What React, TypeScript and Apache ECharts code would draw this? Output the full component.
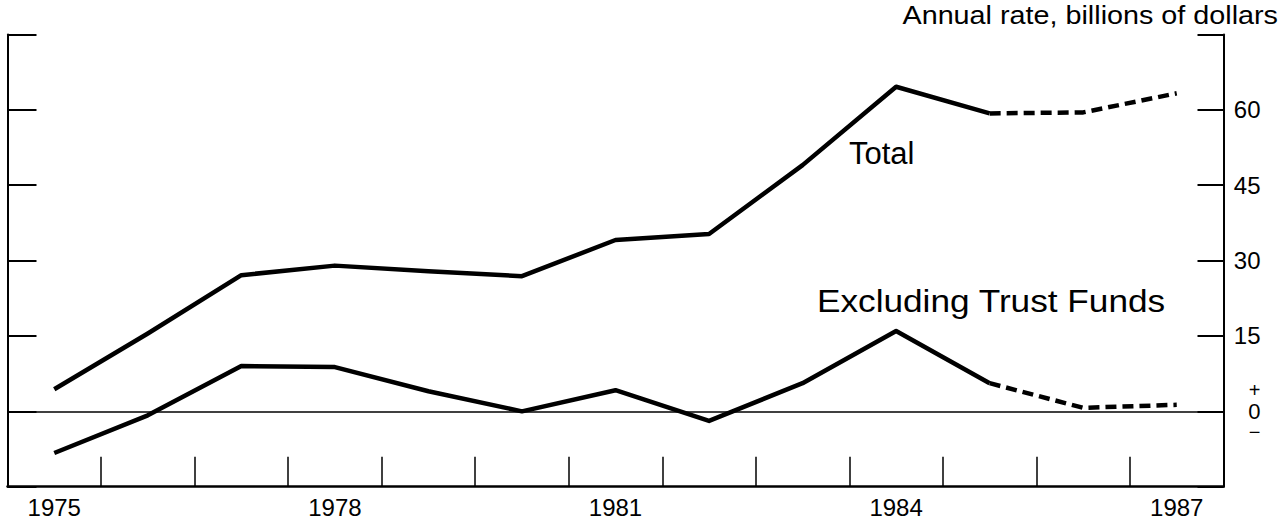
import React, { useEffect, useRef } from "react";
import * as echarts from "echarts";

const years = ["1975","1976","1977","1978","1979","1980","1981","1982","1983","1984","1985","1986","1987"];
const totalSolid = [4.4, 15.5, 27.1, 29.0, 27.9, 26.9, 34.1, 35.3, 49.0, 64.6, 59.3, null, null];
const totalDashed = [null, null, null, null, null, null, null, null, null, null, 59.3, 59.5, 63.3];
const exclSolid = [-8.3, -0.8, 9.0, 8.8, 4.0, 0.0, 4.2, -1.9, 5.6, 16.0, 5.6, null, null];
const exclDashed = [null, null, null, null, null, null, null, null, null, null, 5.6, 0.7, 1.3];
const rightTickLabels = ["15", "30", "45", "60"];

const FONT = "Liberation Sans, Arial, Helvetica, sans-serif";
const INK = "#000";

export default function App() {
  const ref = useRef<HTMLDivElement>(null);
  useEffect(() => {
    const chart = echarts.init(ref.current!, null, { renderer: "svg" });
    const line = (data: (number | null)[], dashed: boolean, extra: any = {}) => ({
      type: "line",
      data,
      symbol: "none",
      connectNulls: false,
      lineStyle: { color: INK, width: 4.5, type: dashed ? [11, 6] : "solid", cap: "butt", join: "round" },
      z: 3,
      ...extra,
    });
    chart.setOption({
      animation: false,
      textStyle: { fontFamily: FONT, color: INK },
      grid: { left: 7.5, right: 57.5, top: 34.5, bottom: 33.3, containLabel: false },
      xAxis: {
        type: "category",
        data: years,
        boundaryGap: true,
        axisLine: { show: true, onZero: false, lineStyle: { color: INK, width: 2.5 } },
        axisTick: { show: true, inside: true, length: 30, interval: 0, lineStyle: { color: INK, width: 1.5 } },
        axisLabel: { interval: 2, color: INK, fontSize: 24, fontFamily: FONT, margin: 9 },
        splitLine: { show: false },
      },
      yAxis: [
        {
          type: "value",
          position: "left",
          min: -15,
          max: 75,
          interval: 15,
          axisLine: { show: true, lineStyle: { color: INK, width: 2 } },
          axisTick: { show: true, inside: true, length: 29, lineStyle: { color: INK, width: 2 } },
          axisLabel: { show: false },
          splitLine: { show: false },
        },
        {
          type: "value",
          position: "right",
          min: -15,
          max: 75,
          interval: 15,
          axisLine: { show: true, lineStyle: { color: INK, width: 2 } },
          axisTick: { show: true, inside: true, length: 26, lineStyle: { color: INK, width: 2 } },
          axisLabel: {
            color: INK,
            fontSize: 24,
            fontFamily: FONT,
            margin: 37,
            align: "right",
            formatter: (v: number) => {
              const s = String(v);
              if (v === 0) return "{p|+}\n{z|0}\n{m|\u2212}";
              return rightTickLabels.includes(s) ? s : "";
            },
            rich: {
              p: { fontSize: 20, lineHeight: 20, fontFamily: FONT, color: INK, align: "right" },
              z: { fontSize: 22, lineHeight: 22, fontFamily: FONT, color: INK, align: "right" },
              m: { fontSize: 20, lineHeight: 20, fontFamily: FONT, color: INK, align: "right" },
            },
          },
          splitLine: { show: false },
        },
      ],
      series: [
        line(totalSolid, false, {
          markLine: {
            silent: true,
            symbol: "none",
            label: { show: false },
            lineStyle: { color: INK, width: 1.5, type: "solid" },
            data: [{ yAxis: 0 }],
          },
        }),
        line(totalDashed, true),
        line(exclSolid, false),
        line(exclDashed, true),
      ],
      graphic: [
        {
          type: "text",
          x: 1278,
          y: 3,
          scaleX: 1.15,
          style: { text: "Annual rate, billions of dollars", font: `25px ${FONT}`, fill: INK, textAlign: "right" },
        },
        {
          type: "text",
          x: 849,
          y: 138,
          style: { text: "Total", font: `31px ${FONT}`, fill: INK },
        },
        {
          type: "text",
          x: 817,
          y: 285,
          scaleX: 1.1,
          style: { text: "Excluding Trust Funds", font: `32px ${FONT}`, fill: INK },
        },
      ],
    });
    return () => chart.dispose();
  }, []);
  return (
    <div
      ref={ref}
      style={{ position: "absolute", left: 0, top: 0, width: 1281, height: 520, background: "#fff" }}
    />
  );
}
